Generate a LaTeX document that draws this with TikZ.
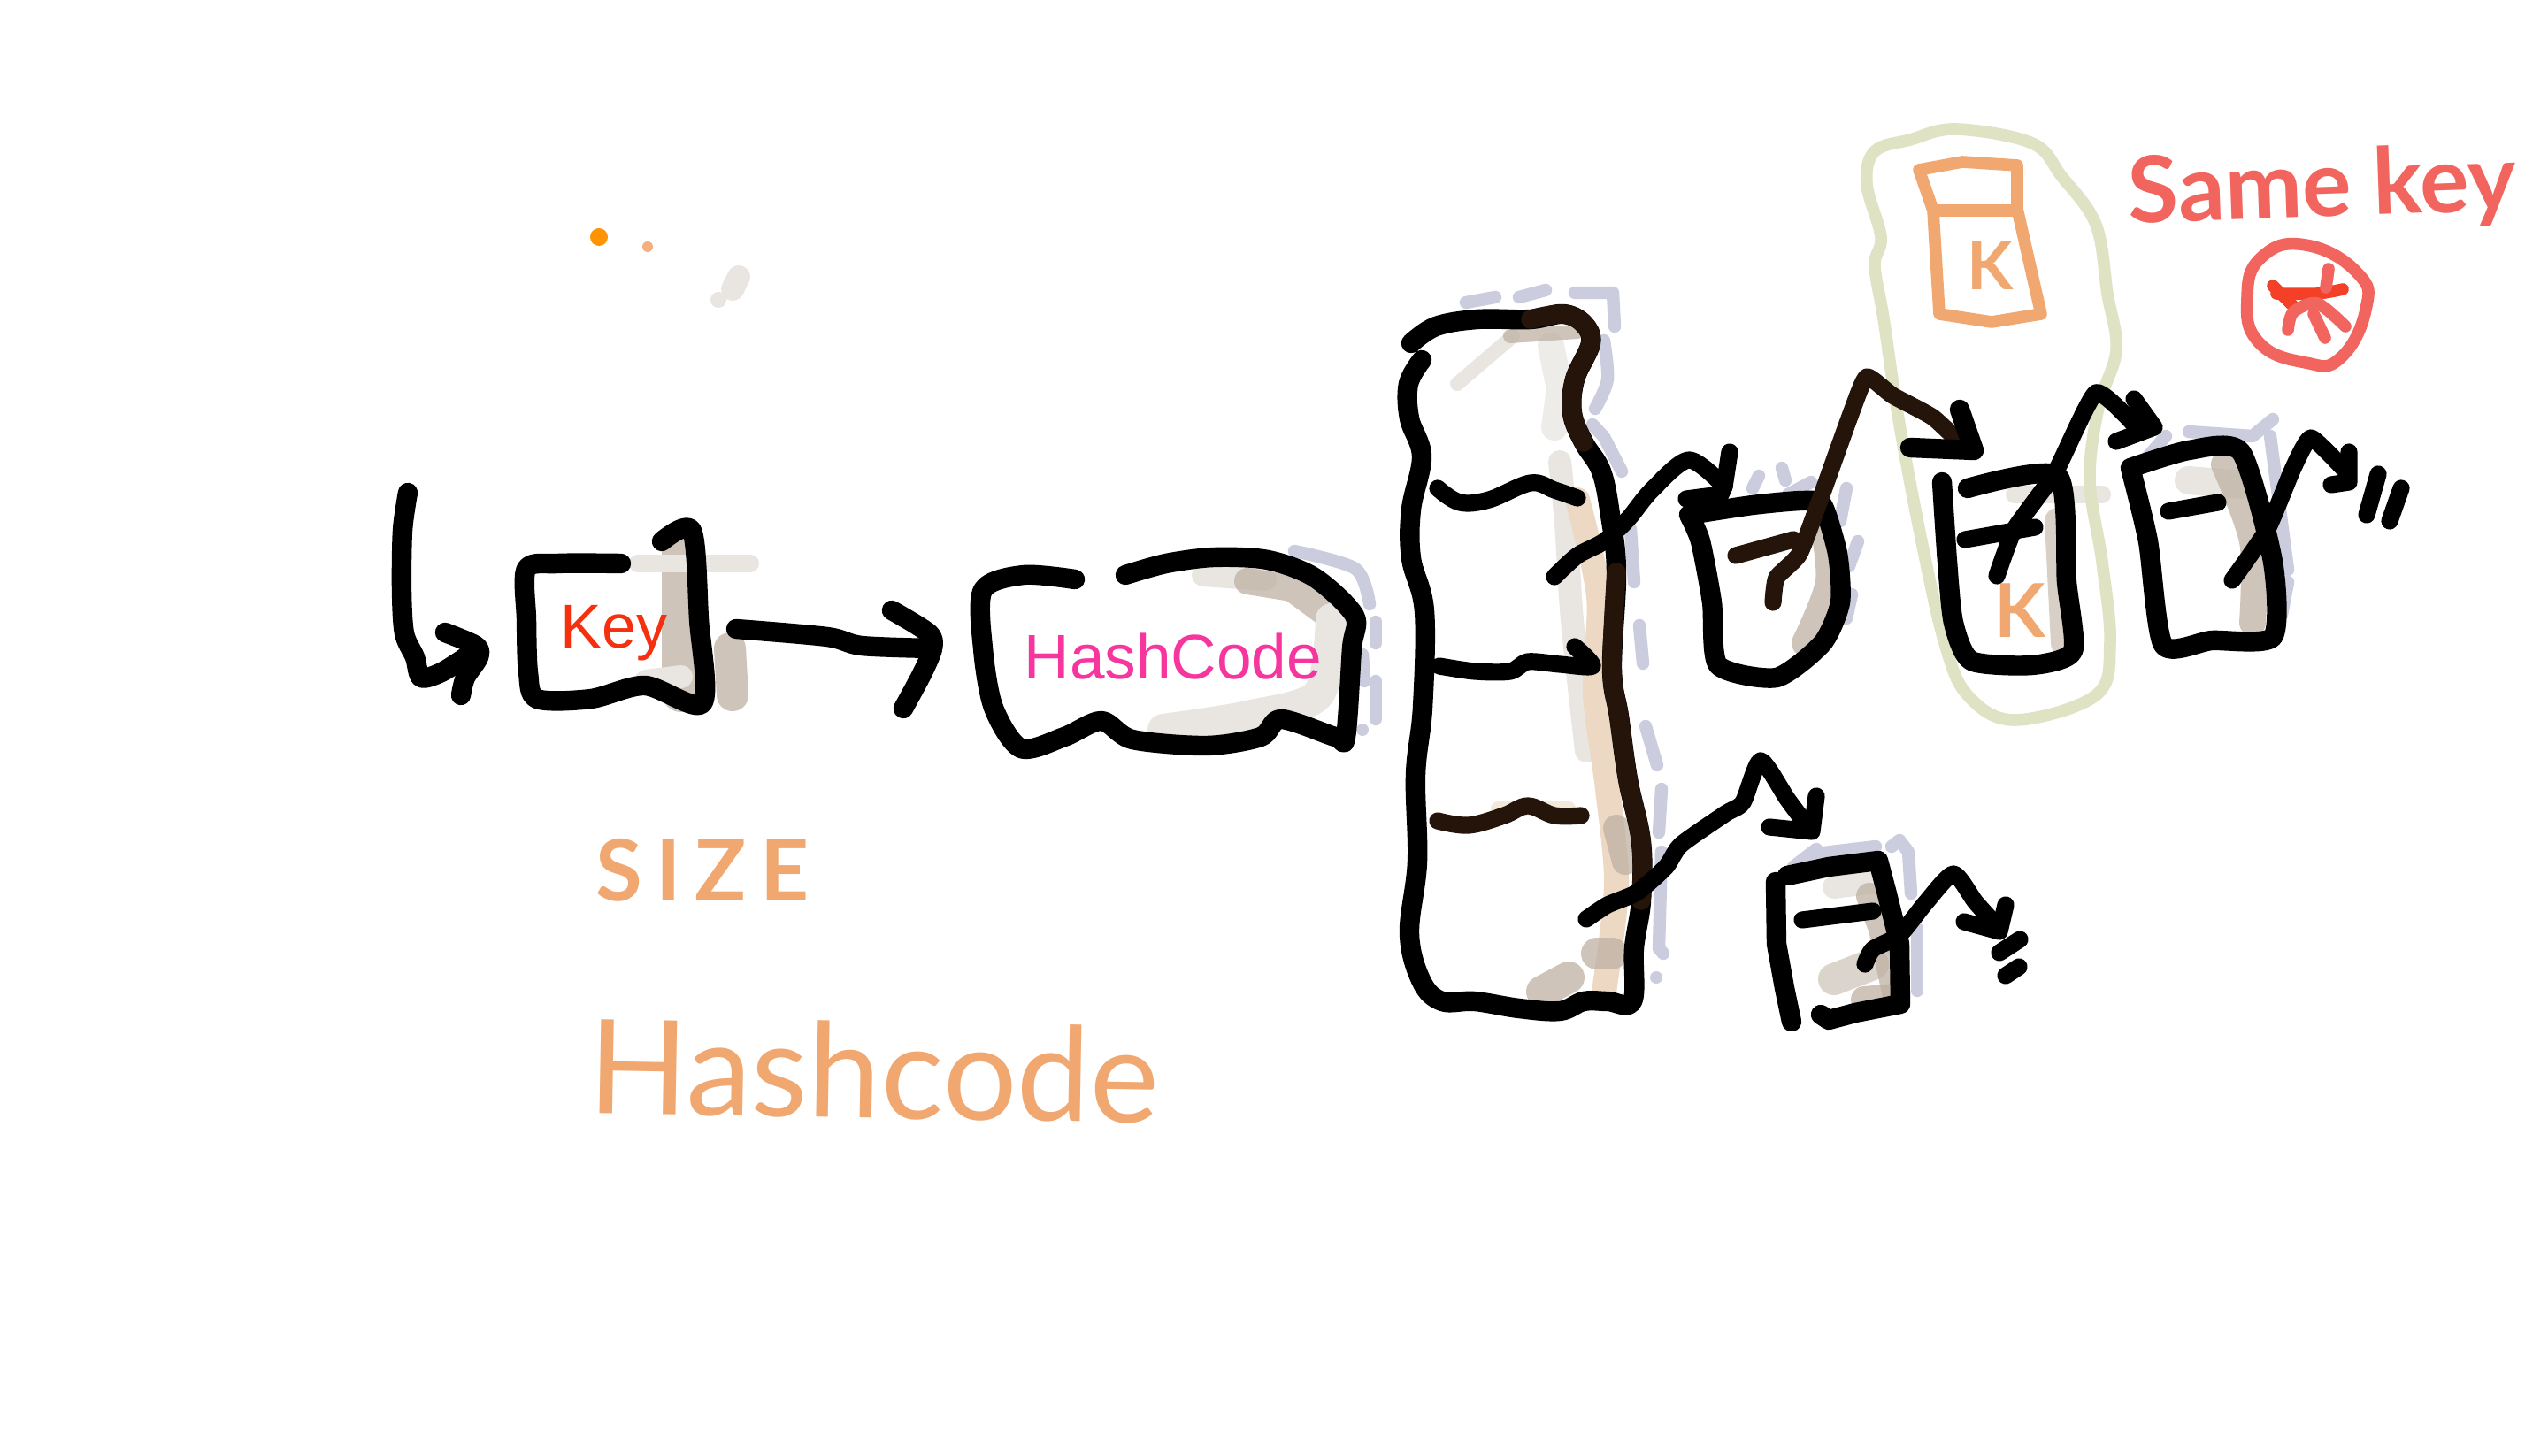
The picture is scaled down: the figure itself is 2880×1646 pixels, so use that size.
\documentclass[tikz,border=0pt]{standalone}
\usepackage{fontspec}
\setmainfont{Liberation Sans}
\newfontfamily\handfont{Lato}
\newfontfamily\handspaced[LetterSpace=16]{Lato}
\usetikzlibrary{positioning}

\begin{document}
\begin{tikzpicture}[x=0.25pt, y=-0.25pt, line cap=round, line join=round]

\definecolor{inkbrown}{RGB}{36, 20, 10}
\definecolor{keyred}{RGB}{245, 48, 15}
\definecolor{hashpink}{RGB}{247, 53, 159}
\definecolor{penorange}{RGB}{241, 167, 112}
\definecolor{penred}{RGB}{242, 101, 95}
\definecolor{penolive}{RGB}{223, 226, 195}
\definecolor{shadeblue}{RGB}{203, 205, 222}
\definecolor{shadetan}{RGB}{190, 177, 163}
\definecolor{shadegrey}{RGB}{233, 230, 225}
\definecolor{shadepeach}{RGB}{236, 216, 195}

\tikzset{
    ink/.style={draw=black, line width=5.6pt},
    inkthin/.style={draw=black, line width=4.8pt},
    inktint/.style={draw=inkbrown, line width=4.8pt},
    bluedash/.style={draw=shadeblue, line width=3.6pt},
    tanband/.style={draw=shadetan, line width=7.5pt, opacity=.75},
    greyband/.style={draw=shadegrey, line width=6.5pt},
    peachband/.style={draw=shadepeach, line width=7pt},
    orangepen/.style={draw=penorange, line width=3.4pt},
    redpen/.style={draw=penred, line width=3.4pt},
    handtext/.style={inner sep=0pt, font=\handfont},
    typedtext/.style={inner sep=0pt}
}

\fill[white] (0,0) rectangle (2880,1646);
\useasboundingbox (0,0) rectangle (2880,1646);

% --- stray dots ---
\fill[orange!85!yellow] (677,268) circle (10);
\fill[penorange!90!white] (732,279) circle (6);
\fill[shadegrey] (812,339) circle (9);
\draw[greyband] (835,313) -- (828,327);

% --- shading under the strokes ---
% key
\draw[tanband, line width=11pt] (770,620) -- (770,783);
\draw[greyband, line width=5pt] (721,637) -- (848,637);
\draw[tanband, line width=9pt] (825,733) -- (828,786);
\draw[greyband] (730,770) -- (770,765);
% hash code
\draw[greyband] (1360,650) -- (1430,655);
\draw[tanband] (1410,657) -- (1460,665) -- (1502,696);
\draw[greyband, line width=9pt] plot[smooth] coordinates {(1315,825) (1410,810) (1490,785) (1505,700)};
\draw[bluedash] plot[smooth] coordinates {(1463,623) (1532,643) (1548,683)};
\draw[bluedash] (1555,703) -- (1555,727);
\draw[bluedash] (1540,740) -- (1542,770);
\draw[bluedash] (1555,770) -- (1555,813);
\fill[shadeblue] (1540,825) circle (7);
% table
\draw[greyband, line width=4pt] (1647,434) -- (1710,380);
\draw[greyband] plot[smooth] coordinates {(1763,522) (1770,592) (1777,701) (1793,849)};
\draw[peachband] plot[smooth] coordinates {(1783,565) (1807,674) (1803,783) (1817,892) (1827,1001) (1813,1121)};
\draw[tanband, draw=shadegrey] (1753,391) -- (1763,440) -- (1757,483);
\draw[tanband, line width=4pt] (1707,380) -- (1783,375);
\draw[tanband] (1827,936) -- (1837,974);
\draw[tanband, line width=9pt] (1805,1078) -- (1822,1078);
\draw[tanband, line width=9pt] (1743,1121) -- (1773,1105);
\draw[peachband, draw=shadepeach!60!white, line width=4pt] (1693,914) -- (1773,914);
\draw[bluedash] (1657,342) -- (1690,336);
\draw[bluedash] (1717,336) -- (1747,328);
\draw[bluedash] (1780,331) -- (1823,331) -- (1825,369);
\draw[bluedash] plot[smooth] coordinates {(1813,385) (1817,429) (1803,462)};
\draw[bluedash] (1800,480) -- (1813,494) -- (1833,533);
\draw[bluedash] (1843,598) -- (1847,658);
\draw[bluedash] (1853,707) -- (1857,750);
\draw[bluedash] (1860,821) -- (1873,865);
\draw[bluedash] (1878,892) -- (1875,941);
\draw[bluedash] (1878,963) -- (1875,1072) -- (1880,1078);
\fill[shadeblue] (1872,1105) circle (7);
% first bucket
\draw[tanband] plot[smooth] coordinates {(2060,589) (2067,658) (2040,727)};
\draw[bluedash] (1988,538) -- (1981,552);
\draw[bluedash] (2014,529) -- (2018,543);
\draw[bluedash] (2047,545) -- (2021,559);
\draw[bluedash] (2087,552) -- (2080,589);
\draw[bluedash] (2100,612) -- (2090,640);
\draw[bluedash] (2093,672) -- (2087,699);
% second bucket
\draw[tanband, opacity=.6] (2326,589) -- (2333,727);
\draw[greyband, line width=5pt] (2277,559) -- (2376,559);
% third bucket
\draw[greyband, line width=8pt] (2474,543) -- (2533,548);
\draw[tanband] plot[smooth] coordinates {(2514,525) (2546,612) (2546,704)};
\draw[bluedash] (2474,488) -- (2546,493) -- (2569,474);
\draw[bluedash] (2428,516) -- (2448,493);
\draw[bluedash] (2566,493) -- (2586,644);
\draw[bluedash] (2586,658) -- (2579,695);
% lower bucket
\draw[greyband] (2073,1003) -- (2120,997);
\draw[greyband, draw=shadetan!55!white, line width=9pt] (2073,1107) -- (2117,1090);
\draw[tanband] (2113,1013) -- (2127,1050) -- (2143,1127);
\draw[tanband] (2107,1130) -- (2143,1127);
\draw[bluedash] (2027,980) -- (2053,960);
\draw[bluedash] (2053,965) -- (2120,957);
\draw[bluedash] (2138,957) -- (2147,950) -- (2157,963) -- (2160,1010);
\draw[bluedash] (2167,1050) -- (2167,1120);

% --- same key loop and new entry ---
\draw[penolive, line width=3.4pt] plot[smooth cycle, tension=.6] coordinates {(2211,146) (2297,162) (2330,199) (2369,254) (2382,332) (2392,396) (2372,460) (2362,543) (2376,635) (2385,727) (2369,786) (2277,814) (2224,786) (2198,727) (2172,612) (2146,474) (2129,360) (2119,300) (2126,268) (2110,208) (2119,171) (2159,158)};
\draw[orangepen] (2169,192) -- (2218,183) -- (2280,187) -- (2280,236) -- (2307,355) -- (2251,364) -- (2192,355) -- (2185,238) -- cycle;
\draw[orangepen] (2188,238) -- (2277,238);
\node[handtext, text=penorange, font=\handfont\bfseries\fontsize{19}{20}\selectfont] (newK) at (2250,300) {K};
\node[handtext, text=penorange, font=\handfont\bfseries\fontsize{21}{22}\selectfont] (oldK) at (2283,690) {K};

% --- start arrow and key ---
\draw[ink] plot[smooth, tension=.5] coordinates {(461,557) (455,600) (454,667) (457,716) (469,743) (476,766) (499,760) (526,743)};
\draw[ink] plot[smooth, tension=.5] coordinates {(503,715) (538,730) (541,743) (526,766) (521,786)};
\draw[ink] plot[smooth, tension=.5] coordinates {(702,637) (630,637) (595,643) (595,700) (597,760) (607,790) (668,790) (729,775) (794,795) (790,700) (782,600) (748,612)};
\node[typedtext, text=keyred, font=\fontsize{17.5}{20}\selectfont] (key) at (694,716) {Key};

\draw[ink] plot[smooth, tension=.5] coordinates {(832,711) (935,720) (974,730) (1054,733)};
\draw[ink] plot[smooth, tension=.5] coordinates {(1008,690) (1050,716) (1054,733) (1043,760) (1021,801)};

% --- hash code ---
\draw[ink] plot[smooth, tension=.5] coordinates {(1215,655) (1157,650) (1111,667) (1111,733) (1123,800) (1154,846) (1203,833) (1245,815) (1280,836) (1364,843) (1425,833) (1448,813) (1509,833) (1521,833) (1528,733) (1531,696) (1486,653) (1433,633) (1372,630) (1318,637) (1272,650)};
\node[typedtext, text=hashpink, font=\fontsize{17.8}{20}\selectfont] (hashcode) at (1326,742) {HashCode};

% --- table ---
\draw[ink] plot[smooth, tension=.6] coordinates {(1595,388) (1623,369) (1670,361) (1730,361) (1767,355) (1790,366) (1798,388) (1780,429) (1777,467) (1790,500) (1810,533) (1820,582) (1827,647) (1822,756) (1830,810) (1840,881) (1855,952) (1855,1018) (1847,1072) (1845,1132) (1817,1132) (1790,1132) (1763,1143) (1717,1140) (1667,1132) (1630,1132) (1607,1110) (1593,1056) (1602,974) (1600,876) (1608,800) (1610,691) (1595,631) (1595,576) (1607,516) (1593,473) (1592,434) (1607,407)};
\draw[inktint, line width=5.4pt] plot[smooth, tension=.6] coordinates {(1730,361) (1767,355) (1790,366) (1798,388) (1780,429) (1777,467) (1790,500)};
\draw[inktint, line width=5.4pt] plot[smooth, tension=.6] coordinates {(1827,647) (1822,756) (1830,810) (1840,881) (1855,952) (1855,1018)};
\draw[inkthin] plot[smooth, tension=.6] coordinates {(1625,552) (1650,568) (1683,565) (1730,546) (1757,554) (1783,563)};
\draw[inkthin] plot[smooth, tension=.5] coordinates {(1627,753) (1667,759) (1707,759) (1727,748) (1763,751) (1800,753) (1780,731)};
\draw[inktint] plot[smooth, tension=.6] coordinates {(1625,928) (1660,933) (1700,922) (1727,911) (1757,922) (1787,922)};

% --- buckets ---
\draw[ink] plot[smooth, tension=.4] coordinates {(1909,582) (1981,571) (2037,566) (2060,571) (2077,626) (2080,681) (2060,727) (2008,766) (1942,752) (1935,681) (1922,612) (1909,582)};
\draw[inktint] (1962,628) -- (2027,610);

\draw[ink] plot[smooth, tension=.4] coordinates {(2195,545) (2201,635) (2208,704) (2228,747) (2297,752) (2343,736) (2336,658) (2326,538) (2224,552)};
\draw[inkthin] (2221,610) -- (2300,596);

\draw[ink] plot[smooth, tension=.4] coordinates {(2408,529) (2428,612) (2445,729) (2500,724) (2569,720) (2569,635) (2533,511) (2474,509) (2408,529)};
\draw[inkthin] (2451,578) -- (2507,568);

\draw[ink] (2007,997) -- (2008,1067) -- (2017,1117) -- (2025,1155);
\draw[ink] (2020,990) -- (2067,980) -- (2123,973) -- (2132,1007) -- (2147,1067) -- (2148,1135) -- (2097,1145) -- (2067,1153) -- (2058,1147);
\draw[inkthin] (2037,1040) -- (2117,1030);

% --- links between them ---
\draw[inkthin] plot[smooth, tension=.5] coordinates {(1757,652) (1783,628) (1813,612) (1840,587) (1867,554) (1909,520) (1949,550)};
\draw[inkthin] (1906,564) -- (1945,559) -- (1949,550) -- (1955,511);

\draw[inktint] plot[smooth, tension=.3] coordinates {(2004,681) (2008,653) (2034,626) (2060,557) (2093,465) (2110,426) (2139,447) (2185,472) (2224,509)};
\draw[ink] (2215,463) -- (2231,509) -- (2159,506);

\draw[inkthin] plot[smooth, tension=.3] coordinates {(2257,651) (2277,598) (2323,534) (2369,444) (2415,483)};
\draw[inkthin] (2412,451) -- (2435,483) -- (2392,499);

\draw[inkthin] plot[smooth, tension=.3] coordinates {(2523,656) (2563,598) (2592,529) (2612,495) (2648,529)};
\draw[inkthin] (2635,548) -- (2655,545) -- (2655,511);
\draw[inkthin] (2675,582) -- (2688,536);
\draw[inkthin] (2701,589) -- (2714,552);

\draw[inkthin] plot[smooth, tension=.4] coordinates {(1793,1039) (1817,1023) (1850,1009) (1883,980) (1900,955) (1950,920) (1970,907) (1990,860) (2020,903) (2040,930)};
\draw[inkthin] (2053,900) -- (2048,940) -- (2000,935);

\draw[inkthin] plot[smooth, tension=.4] coordinates {(2108,1090) (2117,1073) (2147,1057) (2177,1020) (2208,988) (2233,1020) (2260,1050)};
\draw[inkthin] (2267,1023) -- (2260,1053) -- (2220,1042);
\draw[inkthin] (2260,1077) -- (2283,1062);
\draw[inkthin] (2267,1103) -- (2282,1093);

% --- angry face ---
\draw[redpen] plot[smooth cycle, tension=.8] coordinates {(2606,277) (2665,309) (2674,350) (2645,405) (2606,410) (2553,387) (2540,337) (2556,291)};
\draw[redpen, draw=keyred!70!penred] (2569,323) -- (2592,346);
\draw[redpen, draw=keyred!70!penred] plot[smooth] coordinates {(2573,332) (2619,332) (2648,327)};
\draw[redpen] (2632,304) -- (2629,325);
\draw[redpen] plot[smooth] coordinates {(2586,373) (2592,353) (2619,343) (2651,369)};
\draw[redpen] (2615,355) -- (2628,382);

% --- handwriting ---
\node[handtext, text=penred, font=\handfont\bfseries\fontsize{26}{28}\selectfont, rotate=2] (samekey) at (2625,215) {Same key};
\node[handtext, text=penorange, font=\handspaced\bfseries\fontsize{24}{26}\selectfont] (sizelabel) at (794,984) {SIZE};
\node[handtext, text=penorange, font=\handfont\fontsize{37}{40}\selectfont, rotate=-1] (hashlabel) at (988,1210) {Hashcode};

\end{tikzpicture}
\end{document}
